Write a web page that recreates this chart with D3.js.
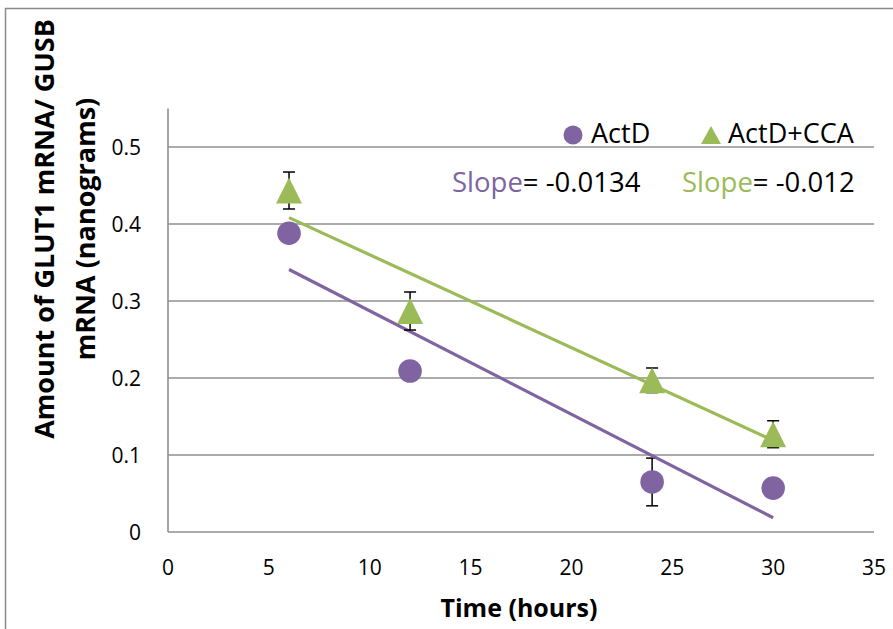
<!DOCTYPE html>
<html>
<head>
<meta charset="utf-8">
<script src="https://cdn.jsdelivr.net/npm/d3@7"></script>
<style>
  body { margin: 0; background: #fff; }
  svg { display: block; font-family: "Open Sans", sans-serif; }
</style>
</head>
<body>
<svg id="chart" width="893" height="629"></svg>
<script>
// Data
const hours = [6, 12, 24, 30];
const actD = [0.388, 0.209, 0.065, 0.057];
const actDErr = [0.01, 0.01, 0.031, 0.008];
const actDCCA = [0.4435, 0.287, 0.197, 0.127];
const actDCCAErr = [0.024, 0.0247, 0.016, 0.0175];
const seriesNames = ["ActD", "ActD+CCA"];
const slopeLabels = ["-0.0134", "-0.012"];
const xTicks = [0, 5, 10, 15, 20, 25, 30, 35];
const yTicks = [0, 0.1, 0.2, 0.3, 0.4, 0.5];

const purple = "#8064a2";
const green = "#9bbb59";
const gridColor = "#8f8f8f";

const svg = d3.select("#chart");

// Outer chart frame (runs off the canvas on the right / bottom)
svg.append("rect")
    .attr("x", 5.5).attr("y", 8.5)
    .attr("width", 1000).attr("height", 1000)
    .attr("fill", "none")
    .attr("stroke", "#8a8a8a")
    .attr("stroke-width", 1.5);

const x = d3.scaleLinear().domain([0, 35]).range([168, 874]);
const y = d3.scaleLinear().domain([0, 0.55]).range([532, 108.5]);

// Horizontal gridlines
svg.append("g")
    .selectAll("line")
    .data(yTicks.filter(d => d > 0))
    .enter()
    .append("line")
    .attr("x1", x(0)).attr("x2", x(35))
    .attr("y1", d => y(d)).attr("y2", d => y(d))
    .attr("stroke", gridColor)
    .attr("stroke-width", 1.6);

// Axis lines
svg.append("line")
    .attr("x1", x(0)).attr("x2", x(0))
    .attr("y1", y(0)).attr("y2", y(0.55))
    .attr("stroke", gridColor).attr("stroke-width", 1.6);
svg.append("line")
    .attr("x1", x(0)).attr("x2", x(35))
    .attr("y1", y(0)).attr("y2", y(0))
    .attr("stroke", gridColor).attr("stroke-width", 1.6);

// Tick labels
svg.append("g")
    .selectAll("text")
    .data(xTicks)
    .enter()
    .append("text")
    .attr("x", d => x(d))
    .attr("y", 575)
    .attr("text-anchor", "middle")
    .attr("font-size", 21)
    .attr("fill", "#000")
    .text(d => d);

svg.append("g")
    .selectAll("text")
    .data(yTicks)
    .enter()
    .append("text")
    .attr("x", 141)
    .attr("y", d => y(d) + 7.5)
    .attr("text-anchor", "end")
    .attr("font-size", 21)
    .attr("fill", "#000")
    .text(d => d === 0 ? "0" : d.toFixed(1));

// Axis titles
svg.append("text")
    .attr("x", 519).attr("y", 617)
    .attr("text-anchor", "middle")
    .attr("font-size", 25)
    .attr("font-weight", "bold")
    .text("Time (hours)");

const yTitle = svg.append("text")
    .attr("transform", "translate(0,229) rotate(-90)")
    .attr("text-anchor", "middle")
    .attr("font-size", 27)
    .attr("font-weight", "bold");
yTitle.append("tspan").attr("x", 0).attr("y", 54).text("Amount of GLUT1 mRNA/ GUSB");
yTitle.append("tspan").attr("x", 0).attr("y", 95).text("mRNA (nanograms)");

// Least squares trendline
function fit(xs, ys) {
    const mx = d3.mean(xs), my = d3.mean(ys);
    const sxy = d3.sum(xs, (v, i) => (v - mx) * (ys[i] - my));
    const sxx = d3.sum(xs, v => (v - mx) * (v - mx));
    const slope = sxy / sxx;
    return { slope: slope, intercept: my - slope * mx };
}

const series = [
    { name: seriesNames[0], values: actD, err: actDErr, color: purple, shape: "circle" },
    { name: seriesNames[1], values: actDCCA, err: actDCCAErr, color: green, shape: "triangle" }
];

const line = d3.line().x(d => x(d[0])).y(d => y(d[1]));
const xExtent = d3.extent(hours);

series.forEach(s => {
    const pts = hours.map((h, i) => ({ h: h, v: s.values[i], e: s.err[i] }));

    // error bars
    const eb = svg.append("g").attr("stroke", "#000").attr("stroke-width", 1.5);
    pts.forEach(p => {
        eb.append("line")
            .attr("x1", x(p.h)).attr("x2", x(p.h))
            .attr("y1", y(p.v - p.e)).attr("y2", y(p.v + p.e));
        [p.v - p.e, p.v + p.e].forEach(v => {
            eb.append("line")
                .attr("x1", x(p.h) - 6).attr("x2", x(p.h) + 6)
                .attr("y1", y(v)).attr("y2", y(v));
        });
    });

    // trendline
    const f = fit(hours, s.values);
    svg.append("path")
        .datum(xExtent.map(h => [h, f.intercept + f.slope * h]))
        .attr("d", line)
        .attr("fill", "none")
        .attr("stroke", s.color)
        .attr("stroke-width", 3.2);

    // markers
    if (s.shape === "circle") {
        svg.append("g").selectAll("circle")
            .data(pts).enter().append("circle")
            .attr("cx", d => x(d.h)).attr("cy", d => y(d.v))
            .attr("r", 11.8)
            .attr("fill", s.color);
    } else {
        svg.append("g").selectAll("path")
            .data(pts).enter().append("path")
            .attr("d", d => {
                const cx = x(d.h), cy = y(d.v);
                return `M${cx},${cy - 13}L${cx + 13},${cy + 13}L${cx - 13},${cy + 13}Z`;
            })
            .attr("fill", s.color);
    }
});

// Legend
const legend = svg.append("g");
legend.append("circle")
    .attr("cx", 573).attr("cy", 135).attr("r", 9.5)
    .attr("fill", series[0].color);
legend.append("text")
    .attr("x", 591).attr("y", 143)
    .attr("font-size", 27)
    .text(series[0].name);
legend.append("path")
    .attr("d", "M711,126L721,144L701,144Z")
    .attr("fill", series[1].color);
legend.append("text")
    .attr("x", 728).attr("y", 143)
    .attr("font-size", 27)
    .text(series[1].name);

// Slope annotations
[[452, 0], [682, 1]].forEach(([lx, i]) => {
    const t = svg.append("text")
        .attr("x", lx).attr("y", 192)
        .attr("font-size", 27.5);
    t.append("tspan").attr("fill", series[i].color).text("Slope");
    t.append("tspan").attr("fill", "#000").text("= " + slopeLabels[i]);
});
</script>
</body>
</html>
